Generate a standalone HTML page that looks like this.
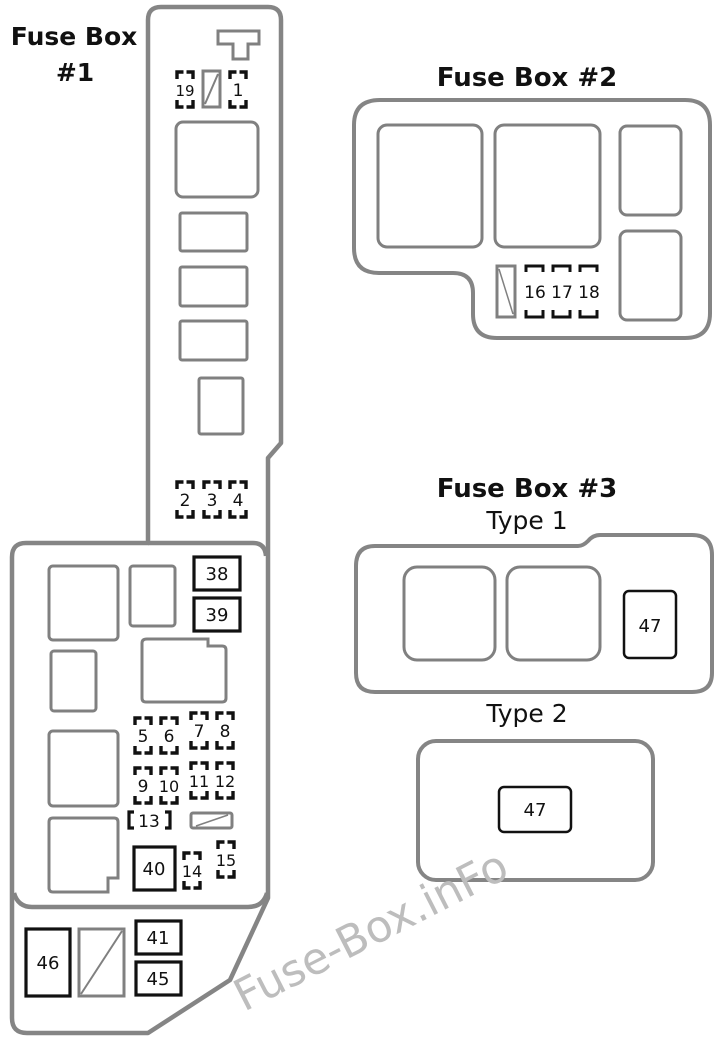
<!DOCTYPE html>
<html><head><meta charset="utf-8"><style>
html,body{margin:0;padding:0;background:#fff}
svg{display:block}
text{font-family:"DejaVu Sans","Liberation Sans",sans-serif}
</style></head><body>
<svg width="720" height="1044" viewBox="0 0 720 1044" xmlns="http://www.w3.org/2000/svg">
<defs>
<path id="br" d="M1,8 V1 H7.5 M10.5,1 H17 V8 M1,29 V36 H7.5 M10.5,36 H17 V29" fill="none" stroke="#111" stroke-width="3.4"/>
</defs>
<rect width="720" height="1044" fill="#fff"/>

<g fill="none" stroke="#858585" stroke-width="4.5" stroke-linejoin="round">
<path d="M148,543 L148,20 Q148,7 161,7 L268,7 Q281,7 281,20 L281,443 L268,458 L268,898 L230,980 L148,1033 L27,1033 Q12,1033 12,1018 L12,557 Q12,543 26,543 Z"/>
<path d="M148,543 L253,543 Q265,543 266,556"/>
<path d="M14,893 Q18,907 32,907 L248,907 Q263,907 267,893"/>
</g>
<g font-weight="bold" font-size="25" fill="#111">
<text x="74" y="45" text-anchor="middle">Fuse Box</text>
<text x="75" y="81" text-anchor="middle">#1</text>
</g>

<g fill="none" stroke="#808080" stroke-width="3">
<path d="M218,31 H259 V44 H248 V59 H233 V44 H218 Z"/>
<rect x="203" y="71" width="17" height="36"/>
<line x1="205" y1="104" x2="218" y2="74" stroke-width="2"/>
<rect x="176" y="122" width="82" height="75" rx="7"/>
<rect x="180" y="213" width="67" height="38" rx="2"/>
<rect x="180" y="267" width="67" height="39" rx="2"/>
<rect x="180" y="321" width="67" height="39" rx="2"/>
<rect x="199" y="378" width="44" height="56" rx="2"/>
<rect x="49" y="566" width="69" height="74" rx="4"/>
<rect x="130" y="566" width="45" height="60" rx="3"/>
<rect x="51" y="651" width="45" height="60" rx="3"/>
<path d="M147,639 H208 V646 H222 Q226,646 226,650 V698 Q226,702 222,702 H146 Q142,702 142,698 V643 Q142,639 147,639 Z"/>
<rect x="49" y="731" width="69" height="75" rx="4"/>
<path d="M53,818 H114 Q118,818 118,822 V878 H108 V892 H53 Q49,892 49,888 V822 Q49,818 53,818 Z"/>
<rect x="191" y="813" width="41" height="15" rx="2"/>
<line x1="196" y1="826" x2="228" y2="815" stroke-width="1.5"/>
<rect x="79" y="929" width="45" height="67"/>
<line x1="81" y1="994" x2="122" y2="931" stroke-width="2"/>
</g>

<g fill="none" stroke="#111" stroke-width="3.2">
<rect x="194" y="557" width="46" height="33"/>
<rect x="194" y="598" width="46" height="33"/>
<rect x="134" y="847" width="41" height="43"/>
<rect x="26" y="929" width="44" height="67"/>
<rect x="136" y="921" width="45" height="33"/>
<rect x="136" y="962" width="45" height="33"/>
</g>

<use href="#br" x="176" y="71"/>
<use href="#br" x="229" y="71"/>
<use href="#br" x="176" y="481"/>
<use href="#br" x="203" y="481"/>
<use href="#br" x="229" y="481"/>
<use href="#br" x="134" y="717"/>
<use href="#br" x="160" y="717"/>
<use href="#br" x="190" y="712"/>
<use href="#br" x="216" y="712"/>
<use href="#br" x="134" y="767"/>
<use href="#br" x="160" y="767"/>
<use href="#br" x="190" y="762"/>
<use href="#br" x="216" y="762"/>
<use href="#br" x="183" y="852"/>
<use href="#br" x="217" y="841"/>
<path d="M134,812 H129 V828 H134 M165,812 H170 V828 H165" fill="none" stroke="#111" stroke-width="3.2"/>

<g font-size="17" fill="#111" text-anchor="middle">
<text x="185" y="96" font-size="15">19</text>
<text x="238" y="96">1</text>
<text x="185" y="506">2</text>
<text x="212" y="506">3</text>
<text x="238" y="506">4</text>
<text x="143" y="742">5</text>
<text x="169" y="742">6</text>
<text x="199" y="737">7</text>
<text x="225" y="737">8</text>
<text x="143" y="792">9</text>
<text x="169" y="792" font-size="16">10</text>
<text x="199" y="787" font-size="16">11</text>
<text x="225" y="787" font-size="16">12</text>
<text x="149" y="827">13</text>
<text x="192" y="877" font-size="16">14</text>
<text x="226" y="866" font-size="16">15</text>
</g>
<g font-size="18" fill="#111" text-anchor="middle">
<text x="217" y="580">38</text>
<text x="217" y="621">39</text>
<text x="154" y="875">40</text>
<text x="48" y="969">46</text>
<text x="158" y="944">41</text>
<text x="158" y="985">45</text>
</g>

<text x="527" y="86" text-anchor="middle" font-weight="bold" font-size="26" fill="#111">Fuse Box #2</text>
<g fill="none" stroke="#858585" stroke-width="4">
<path d="M380,100 H685 Q710,100 710,125 V313 Q710,338 685,338 H497 Q473,338 473,314 V293 Q473,273 453,273 H379 Q354,273 354,248 V125 Q354,100 380,100 Z"/>
</g>
<g fill="none" stroke="#808080" stroke-width="3">
<rect x="378" y="125" width="104" height="122" rx="9"/>
<rect x="495" y="125" width="105" height="122" rx="9"/>
<rect x="620" y="126" width="61" height="89" rx="7"/>
<rect x="620" y="231" width="61" height="89" rx="7"/>
<rect x="497" y="266" width="18" height="51"/>
<line x1="499" y1="269" x2="513" y2="314" stroke-width="1.5"/>
</g>
<g fill="none" stroke="#111" stroke-width="3">
<path d="M526,272 V266 H543 V272 M526,310 V317 H543 V310"/>
<path d="M553,272 V266 H570 V272 M553,310 V317 H570 V310"/>
<path d="M580,272 V266 H597 V272 M580,310 V317 H597 V310"/>
</g>
<g font-size="17" fill="#111" text-anchor="middle">
<text x="535" y="298">16</text>
<text x="562" y="298">17</text>
<text x="589" y="298">18</text>
</g>

<text x="527" y="497" text-anchor="middle" font-weight="bold" font-size="26" fill="#111">Fuse Box #3</text>
<text x="527" y="529" text-anchor="middle" font-size="25" fill="#111">Type 1</text>
<text x="527" y="722" text-anchor="middle" font-size="25" fill="#111">Type 2</text>
<g fill="none" stroke="#858585" stroke-width="4">
<path d="M375,546 H578 Q583,546 588,541 Q593,535 600,535 H692 Q712,535 712,555 V673 Q712,692 692,692 H375 Q356,692 356,673 V566 Q356,546 375,546 Z"/>
<rect x="418" y="741" width="235" height="139" rx="18"/>
</g>
<g fill="none" stroke="#808080" stroke-width="3">
<rect x="404" y="567" width="91" height="93" rx="13"/>
<rect x="507" y="567" width="93" height="93" rx="13"/>
</g>
<g fill="none" stroke="#111" stroke-width="2.5">
<rect x="624" y="591" width="52" height="67" rx="5"/>
<rect x="499" y="787" width="72" height="45" rx="5"/>
</g>
<g font-size="18" fill="#111" text-anchor="middle">
<text x="650" y="632">47</text>
<text x="535" y="816">47</text>
</g>

<text x="0" y="0" transform="translate(244,1012) rotate(-27)" font-family="'DejaVu Sans Mono','Liberation Mono',monospace" font-size="44" fill="#bdbdbd" textLength="300" lengthAdjust="spacingAndGlyphs">Fuse-Box.inFo</text>
</svg>
</body></html>
